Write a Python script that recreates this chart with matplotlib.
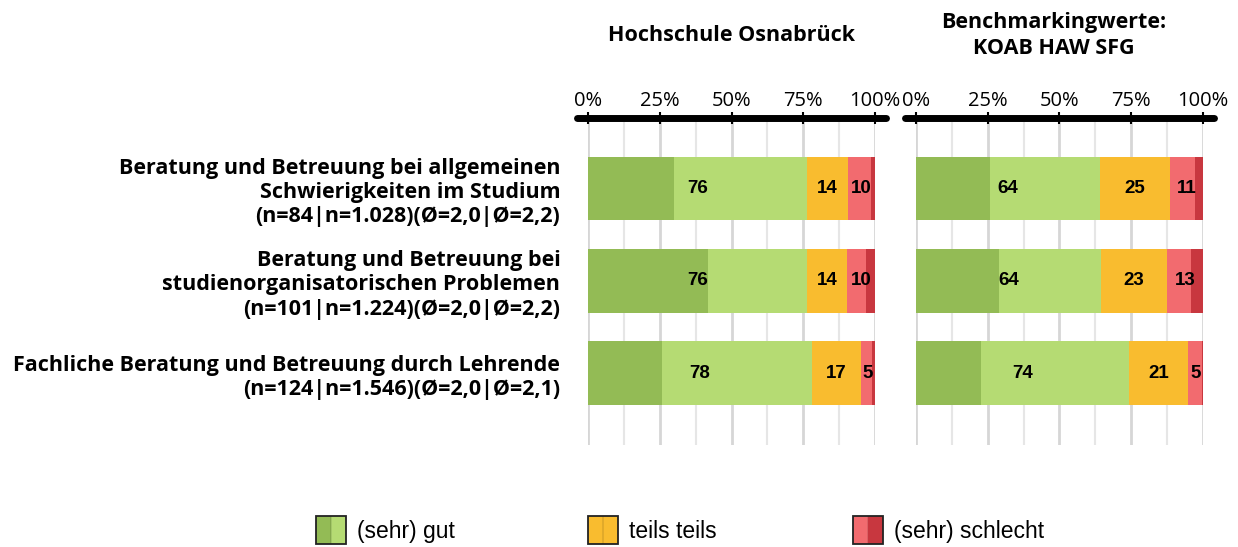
import numpy as np
import matplotlib
matplotlib.use("Agg")
import matplotlib.pyplot as plt
from matplotlib.patches import Rectangle

plt.rcParams['font.family'] = ['Open Sans', 'DejaVu Sans']

# items, top to bottom
items = [
    "Beratung und Betreuung bei allgemeinen\nSchwierigkeiten im Studium\n(n=84|n=1.028)(Ø=2,0|Ø=2,2)",
    "Beratung und Betreuung bei\nstudienorganisatorischen Problemen\n(n=101|n=1.224)(Ø=2,0|Ø=2,2)",
    "Fachliche Beratung und Betreuung durch Lehrende\n(n=124|n=1.546)(Ø=2,0|Ø=2,1)",
]

# Hochschule Osnabrück (percent): sehr gut, gut, teils, schlecht, sehr schlecht
hs_sehr_gut = [30.0, 41.7, 25.6]
hs_gut = [46.2, 34.5, 52.5]
hs_teils = [14.3, 14.0, 17.0]
hs_schlecht = [8.2, 6.8, 4.0]
hs_sehr_schlecht = [1.3, 3.0, 0.9]
hs_labels = [(76, 14, 10), (76, 14, 10), (78, 17, 5)]

# Benchmarkingwerte KOAB HAW SFG
bm_sehr_gut = [25.9, 29.0, 22.8]
bm_gut = [38.2, 35.4, 51.5]
bm_teils = [24.3, 23.0, 20.5]
bm_schlecht = [8.9, 8.4, 4.8]
bm_sehr_schlecht = [2.7, 4.2, 0.4]
bm_labels = [(64, 25, 11), (64, 23, 13), (74, 21, 5)]

legend_labels = ["(sehr) gut", "teils teils", "(sehr) schlecht"]

colors = ["#93BB55", "#B5DB73", "#F9BC2F", "#F26B6F", "#C8373F"]


class SplitHandler:
    # legend box split in two halves with a dark frame
    def legend_artist(self, legend, orig_handle, fontsize, handlebox):
        x0, y0 = -handlebox.xdescent, -handlebox.ydescent
        w, h = handlebox.width, handlebox.height
        tr = handlebox.get_transform()
        c1, c2 = orig_handle
        handlebox.add_artist(Rectangle((x0, y0), w / 2, h, facecolor=c1, edgecolor='none', transform=tr))
        handlebox.add_artist(Rectangle((x0 + w / 2, y0), w / 2, h, facecolor=c2, edgecolor='none', transform=tr))
        handlebox.add_artist(Rectangle((x0 + w / 2 - 0.4, y0), 0.8, h, facecolor='#00000018',
                                       edgecolor='none', transform=tr))
        frame = Rectangle((x0, y0), w, h, facecolor='none', edgecolor='#222222', lw=1.3, transform=tr)
        handlebox.add_artist(frame)
        return frame


fig = plt.figure(figsize=(12.38, 5.47), dpi=100)
ax1 = fig.add_axes([0.475, 0.1865, 0.2318, 0.598])
ax2 = fig.add_axes([0.7399, 0.1865, 0.2318, 0.598])

panels = [
    (ax1, [hs_sehr_gut, hs_gut, hs_teils, hs_schlecht, hs_sehr_schlecht], hs_labels),
    (ax2, [bm_sehr_gut, bm_gut, bm_teils, bm_schlecht, bm_sehr_schlecht], bm_labels),
]

lab_font = dict(fontsize=13.5, fontweight='bold', family=['Liberation Sans', 'DejaVu Sans'],
                ha='center', va='center', zorder=4)

y = np.arange(len(items))
for ax, series, labels in panels:
    left = np.zeros(len(items))
    for vals, c in zip(series, colors):
        ax.barh(y, vals, left=left, height=0.69, color=c, zorder=3)
        left += np.array(vals)
    # value labels sit in the middle of the combined groups
    good = np.array(series[0]) + np.array(series[1])
    mid = good + np.array(series[2])
    for i in range(len(items)):
        g, t, s = labels[i]
        ax.text(good[i] / 2, i, str(g), **lab_font)
        ax.text((good[i] + mid[i]) / 2, i, str(t), **lab_font)
        ax.text((mid[i] + 100) / 2, i, str(s), **lab_font)

    ax.set_xlim(0, 100)
    ax.set_ylim(2.78, -0.766)
    ax.xaxis.tick_top()
    ax.set_xticks([0, 25, 50, 75, 100])
    ax.set_xticklabels(["0%", "25%", "50%", "75%", "100%"], fontsize=14.5)
    ax.set_xticks([12.5, 37.5, 62.5, 87.5], minor=True)
    ax.tick_params(axis='x', which='major', length=8, width=1.5, direction='inout',
                   color='black', pad=1)
    ax.tick_params(axis='x', which='minor', length=0)
    ax.grid(axis='x', which='major', color='#d6d6d6', lw=2, zorder=0)
    ax.grid(axis='x', which='minor', color='#e6e6e6', lw=1.5, zorder=0)
    for sp in ax.spines.values():
        sp.set_visible(False)
    ax.axhline(-0.766, xmin=-0.04, xmax=1.04, color='black', lw=5,
               solid_capstyle='round', clip_on=False, zorder=5)
    ax.set_yticks(y)

ax1.set_yticklabels(items, fontsize=15.5, fontweight='bold', linespacing=1.2)
ax1.tick_params(axis='y', length=0, pad=20)
ax2.set_yticklabels([])
ax2.tick_params(axis='y', length=0)

fig.text(0.591, 0.935, "Hochschule Osnabrück", ha='center', va='center',
         fontsize=15.5, fontweight='bold')
fig.text(0.851, 0.935, "Benchmarkingwerte:\nKOAB HAW SFG", ha='center', va='center',
         fontsize=15.5, fontweight='bold', linespacing=1.27)

handles = [(colors[0], colors[1]), (colors[2], colors[2]), (colors[3], colors[4])]
legend_x = [0.2553, 0.475, 0.689]
for h, lab, lx in zip(handles, legend_labels, legend_x):
    fig.legend([h], [lab], handler_map={tuple: SplitHandler()},
               loc='center left', bbox_to_anchor=(lx, 0.031), frameon=False,
               borderpad=0, borderaxespad=0,
               prop={'family': 'Liberation Sans', 'size': 16.5},
               handlelength=1.3, handleheight=1.55, handletextpad=0.5)

fig.savefig("out.png", dpi=100)
